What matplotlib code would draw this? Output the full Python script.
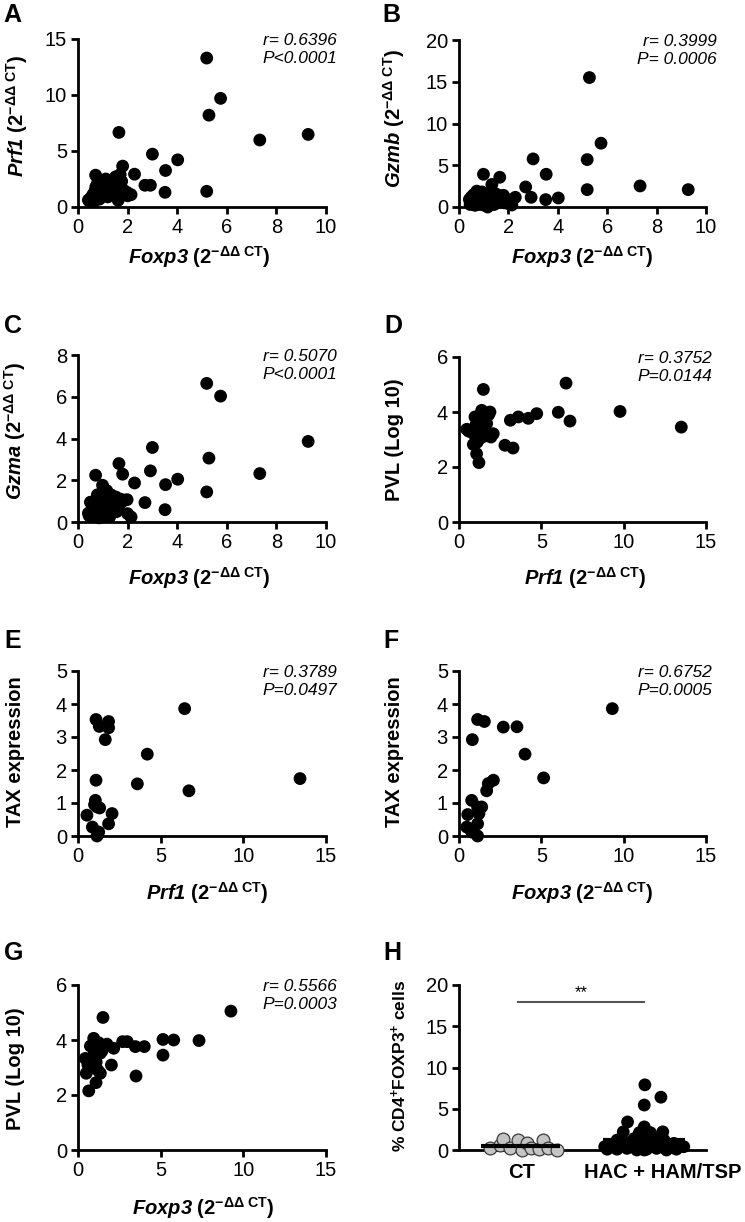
import numpy as np
import matplotlib
matplotlib.use('Agg')
import matplotlib.pyplot as plt

plt.rcParams['font.family'] = ['Liberation Sans', 'DejaVu Sans']
plt.rcParams['mathtext.fontset'] = 'custom'
plt.rcParams['mathtext.rm'] = 'Liberation Sans'
plt.rcParams['mathtext.it'] = 'Liberation Sans:italic'
plt.rcParams['mathtext.bf'] = 'Liberation Sans:bold'
plt.rcParams['mathtext.bfit'] = 'Liberation Sans:italic:bold'

# --- data: panels A-C share the same samples (Foxp3 on x) ---
foxp3 = [5.19, 5.19, 5.28, 5.75, 7.33, 9.28, 3.00, 4.02, 3.53, 3.51,
         2.28, 2.70, 2.92, 1.65, 1.80, 1.98, 2.14, 2.00, 0.71, 0.99,
         0.42, 0.45, 0.50, 0.55, 0.60, 0.65, 0.68, 0.72, 0.75, 0.78,
         0.80, 0.84, 0.86, 0.90, 0.93, 0.96, 1.00, 1.03, 1.06, 1.10,
         1.12, 1.16, 1.20, 1.24, 1.28, 1.33, 1.38, 1.42, 1.47, 1.52,
         1.56, 1.62, 1.70, 1.76, 1.84]
prf1 = [13.3, 1.40, 8.20, 9.70, 5.98, 6.48, 4.72, 4.21, 3.26, 1.31,
        2.93, 1.94, 1.94, 6.66, 3.65, 1.30, 1.10, 1.00, 2.84, 2.00,
        0.62, 0.55, 0.75, 0.90, 1.10, 0.50, 1.40, 1.80, 0.80, 2.10,
        1.20, 1.60, 0.70, 2.40, 1.00, 1.90, 1.30, 2.20, 1.50, 1.10,
        2.50, 1.70, 0.90, 2.00, 1.40, 2.30, 1.60, 1.20, 2.10, 2.70,
        1.80, 0.60, 2.90, 2.30, 1.50]
gzmb = [5.68, 2.08, 15.5, 7.64, 2.52, 2.08, 5.76, 1.08, 3.92, 0.88,
        1.16, 2.40, 1.16, 3.56, 1.40, 0.90, 0.24, 0.40, 1.20, 3.92,
        0.90, 0.30, 1.20, 0.60, 1.50, 0.20, 0.80, 1.90, 0.50, 1.00,
        1.60, 0.30, 1.30, 0.70, 1.80, 0.40, 1.10, 0.20, 1.50, 0.80,
        1.20, 0.00, 1.70, 0.60, 1.30, 2.70, 0.90, 0.30, 1.60, 1.00,
        0.50, 1.40, 0.70, 1.20, 0.50]
gzma = [6.64, 1.44, 3.06, 6.03, 2.32, 3.86, 3.57, 2.05, 1.79, 0.59,
        1.87, 0.93, 2.45, 2.80, 2.29, 1.07, 0.24, 0.40, 2.24, 1.76,
        0.42, 0.30, 0.95, 0.60, 0.50, 0.25, 1.00, 0.80, 0.35, 1.30,
        0.55, 0.90, 0.20, 1.15, 0.70, 1.40, 0.50, 1.00, 0.30, 1.20,
        0.80, 1.50, 0.60, 1.10, 0.25, 1.30, 0.90, 1.00, 0.70, 1.20,
        0.50, 0.70, 1.10, 0.95, 1.05]

# panel D
prf1_d = [13.5, 9.78, 6.50, 6.03, 6.74, 4.72, 4.21, 3.60, 3.12, 2.79,
          3.28, 1.48, 1.21, 1.07, 0.87, 0.47, 0.60, 1.88, 1.94, 1.38,
          0.97, 2.08, 1.68, 1.20, 1.00, 1.30, 1.50, 1.10, 0.90, 1.60,
          1.25, 1.45, 1.80]
pvl_d = [3.45, 4.02, 5.05, 3.99, 3.67, 3.94, 3.77, 3.82, 3.70, 2.79,
         2.69, 4.82, 2.16, 2.48, 2.82, 3.37, 3.30, 4.00, 3.09, 4.06,
         3.82, 3.21, 3.58, 3.00, 3.50, 3.85, 3.70, 2.90, 3.20, 3.30,
         3.60, 3.10, 3.90]

# panel E
prf1_e = [1.09, 1.29, 1.85, 1.85, 1.65, 6.45, 4.19, 3.59, 6.71, 13.43,
          1.09, 1.05, 0.54, 1.15, 1.31, 2.06, 1.85, 0.87, 1.25, 1.15, 1.00]
tax_e = [3.53, 3.32, 3.47, 3.28, 2.92, 3.86, 2.48, 1.58, 1.37, 1.74,
         1.69, 1.08, 0.63, 0.88, 0.85, 0.68, 0.37, 0.27, 0.12, 0.00, 0.95]

# panel F
foxp3_f = [9.31, 1.13, 1.54, 0.81, 2.69, 3.52, 4.01, 5.14, 2.09, 1.78,
           1.68, 0.77, 0.53, 1.13, 1.38, 1.21, 1.13, 0.47, 0.77, 1.13]
tax_f = [3.86, 3.53, 3.47, 2.92, 3.30, 3.31, 2.48, 1.76, 1.69, 1.59,
         1.37, 1.08, 0.65, 0.88, 0.88, 0.68, 0.37, 0.27, 0.12, 0.00]

# panel G
foxp3_g = [9.25, 7.32, 5.79, 5.14, 5.14, 4.01, 3.47, 3.51, 2.98, 2.70,
           2.16, 2.02, 1.75, 1.51, 1.35, 0.65, 1.09, 0.50, 0.44, 0.95,
           0.75, 1.35, 1.10, 0.80, 1.25, 1.00, 0.90, 1.20, 0.60, 1.45, 1.60]
pvl_g = [5.05, 3.98, 4.00, 4.02, 3.45, 3.76, 3.76, 2.69, 3.94, 3.94,
         3.70, 3.09, 3.85, 4.82, 2.79, 2.15, 2.45, 2.79, 3.33, 4.06,
         3.78, 3.52, 3.20, 3.00, 3.90, 3.60, 3.40, 2.90, 3.10, 3.60, 3.75]

# panel H (column scatter)
groups = ['CT', 'HAC + HAM/TSP']
ct_offset = [-0.25, -0.17, -0.14, -0.09, -0.02, 0.01, 0.05, 0.08, 0.15, 0.18, 0.22, 0.29]
ct_vals = [0.2, 0.6, 1.3, 0.3, 1.2, 0.0, 0.8, 0.3, 0.1, 1.2, 0.3, 0.05]
hac_offset = [0.005, 0.135, 0.0, -0.135, -0.17, 0.0, 0.15, -0.04, 0.05, -0.08,
              0.08, 0.16, -0.22,
              -0.32, -0.28, -0.24, -0.20, -0.16, -0.12, -0.08, -0.04, 0.0, 0.04,
              0.08, 0.12, 0.16, 0.20, 0.24, 0.28, 0.32, -0.30, -0.22, -0.14,
              -0.06, 0.02, 0.10, 0.18, 0.26, -0.10, -0.02, 0.06, 0.14, 0.0]
hac_vals = [7.9, 6.4, 5.45, 3.4, 2.2, 2.8, 2.2, 2.1, 2.1, 1.4,
            1.4, 1.2, 1.2,
            0.4, 0.6, 0.3, 0.8, 0.5, 0.9, 0.3, 0.7, 0.2, 0.6,
            0.9, 0.4, 0.7, 0.3, 0.8, 0.5, 0.4, 0.1, 0.1, 0.2,
            0.0, 0.1, 0.2, 0.0, 0.1, 1.0, 1.1, 0.9, 1.0, 0.0]

# --- labels ---
def gene_label(gene):
    return r'$\mathbfit{%s}\ \mathbf{(2^{-\Delta\Delta\ CT})}$' % gene

TICK_FS = 14.5
LAB_FS = 14.5
STAT_FS = 12.5
DOT = 85

fig = plt.figure(figsize=(7.45, 12.22), dpi=100)
W, H = 745.0, 1222.0


def make_ax(x0, x1, y0, y1):
    # pixel box -> figure fraction
    return fig.add_axes([x0 / W, 1 - y1 / H, (x1 - x0) / W, (y1 - y0) / H])


def style(ax, xlim, ylim, xticks, yticks):
    ax.set_xlim(xlim)
    ax.set_ylim(ylim)
    ax.set_xticks(xticks)
    ax.set_yticks(yticks)
    for s in ['top', 'right']:
        ax.spines[s].set_visible(False)
    for s in ['left', 'bottom']:
        ax.spines[s].set_linewidth(2)
    ax.tick_params(direction='out', length=5, width=2, labelsize=TICK_FS, pad=3)


def scatter_panel(box, x, y, xlim, ylim, xticks, yticks, xlabel, ylabel,
                  stats, stat_x, xl_pos, yl_pos):
    ax = make_ax(*box)
    style(ax, xlim, ylim, xticks, yticks)
    ax.scatter(x, y, s=DOT, color='black', edgecolors='none', zorder=3, clip_on=False)
    ax.text(stat_x, 1.035, stats, transform=ax.transAxes, ha='right', va='top',
            fontsize=STAT_FS, fontstyle='italic', linespacing=1.25)
    ax.text(xl_pos[0], xl_pos[1], xlabel, transform=ax.transAxes, ha='center',
            va='center', fontsize=LAB_FS, fontweight='bold')
    ax.text(yl_pos[0], yl_pos[1], ylabel, transform=ax.transAxes, ha='center',
            va='center', rotation=90, fontsize=LAB_FS, fontweight='bold')
    return ax


# A
scatter_panel((78, 326, 39, 207), foxp3, prf1, (0, 10), (0, 15), range(0, 11, 2),
              range(0, 16, 5), gene_label('Foxp3'), gene_label('Prf1'),
              'r= 0.6396\nP<0.0001', 1.044, (0.49, -0.30), (-0.246, 0.54))
# B
scatter_panel((459, 706, 40, 207), foxp3, gzmb, (0, 10), (0, 20), range(0, 11, 2),
              range(0, 21, 5), gene_label('Foxp3'), gene_label('Gzmb'),
              'r= 0.3999\nP= 0.0006', 1.045, (0.50, -0.30), (-0.263, 0.53))
# C
scatter_panel((78, 326, 355, 522), foxp3, gzma, (0, 10), (0, 8), range(0, 11, 2),
              range(0, 9, 2), gene_label('Foxp3'), gene_label('Gzma'),
              'r= 0.5070\nP<0.0001', 1.044, (0.49, -0.335), (-0.254, 0.545))
# D
scatter_panel((459, 706, 357, 522), prf1_d, pvl_d, (0, 15), (0, 6), range(0, 16, 5),
              range(0, 7, 2), gene_label('Prf1'), 'PVL (Log 10)',
              'r= 0.3752\nP=0.0144', 1.024, (0.51, -0.34), (-0.26, 0.50))
# E
scatter_panel((78, 326, 671, 836), prf1_e, tax_e, (0, 15), (0, 5), range(0, 16, 5),
              range(0, 6), gene_label('Prf1'), 'TAX expression',
              'r= 0.3789\nP=0.0497', 1.044, (0.52, -0.345), (-0.254, 0.51))
# F
scatter_panel((459, 706, 671, 836), foxp3_f, tax_f, (0, 15), (0, 5), range(0, 16, 5),
              range(0, 6), gene_label('Foxp3'), 'TAX expression',
              'r= 0.6752\nP=0.0005', 1.024, (0.50, -0.345), (-0.26, 0.51))
# G
scatter_panel((78, 326, 985, 1150), foxp3_g, pvl_g, (0, 15), (0, 6), range(0, 16, 5),
              range(0, 7, 2), gene_label('Foxp3'), 'PVL (Log 10)',
              'r= 0.5566\nP=0.0003', 1.044, (0.505, -0.35), (-0.254, 0.49))

# H
axh = make_ax(459, 706, 985, 1150)
style(axh, (0.5, 2.5), (0, 20), [], range(0, 21, 5))
ct_x = 1 + np.array(ct_offset)
hac_x = 2 + np.array(hac_offset)
axh.scatter(ct_x, ct_vals, s=DOT, facecolor='#c4c4c4', edgecolors='#3a3a3a',
            linewidths=0.9, zorder=3, clip_on=False)
axh.scatter(hac_x, hac_vals, s=DOT, color='black', edgecolors='none', zorder=3, clip_on=False)
axh.hlines(np.mean(ct_vals), 1 - 0.32, 1 + 0.32, color='black', lw=3, zorder=4)
axh.hlines(np.mean(hac_vals), 2 - 0.33, 2 + 0.33, color='black', lw=3, zorder=4)
axh.plot([0.98, 2.0], [18, 18], color='#555555', lw=1.5)
axh.text(1.49, 18.2, '**', ha='center', va='bottom', fontsize=12)
# group names sit a little right of the HAC column in the original
for gx, name in zip([1.01, 2.15], groups):
    axh.text(gx, -2.7, name, ha='center', va='center', fontsize=TICK_FS,
             fontweight='bold', clip_on=False)
axh.text(-0.243, 0.51, r'% CD4$^{\mathbf{+}}$FOXP3$^{\mathbf{+}}$ cells', transform=axh.transAxes,
         rotation=90, ha='center', va='center', fontsize=12.5, fontweight='bold')

# panel letters
letters = [('A', 3, 22), ('B', 382, 22), ('C', 4, 333), ('D', 384, 333),
           ('E', 4, 648), ('F', 383, 648), ('G', 4, 960), ('H', 383, 960)]
for lab, px, py in letters:
    fig.text(px / W, 1 - py / H, lab, fontsize=18, fontweight='bold', ha='left', va='baseline')

fig.savefig('out.png', dpi=100)
